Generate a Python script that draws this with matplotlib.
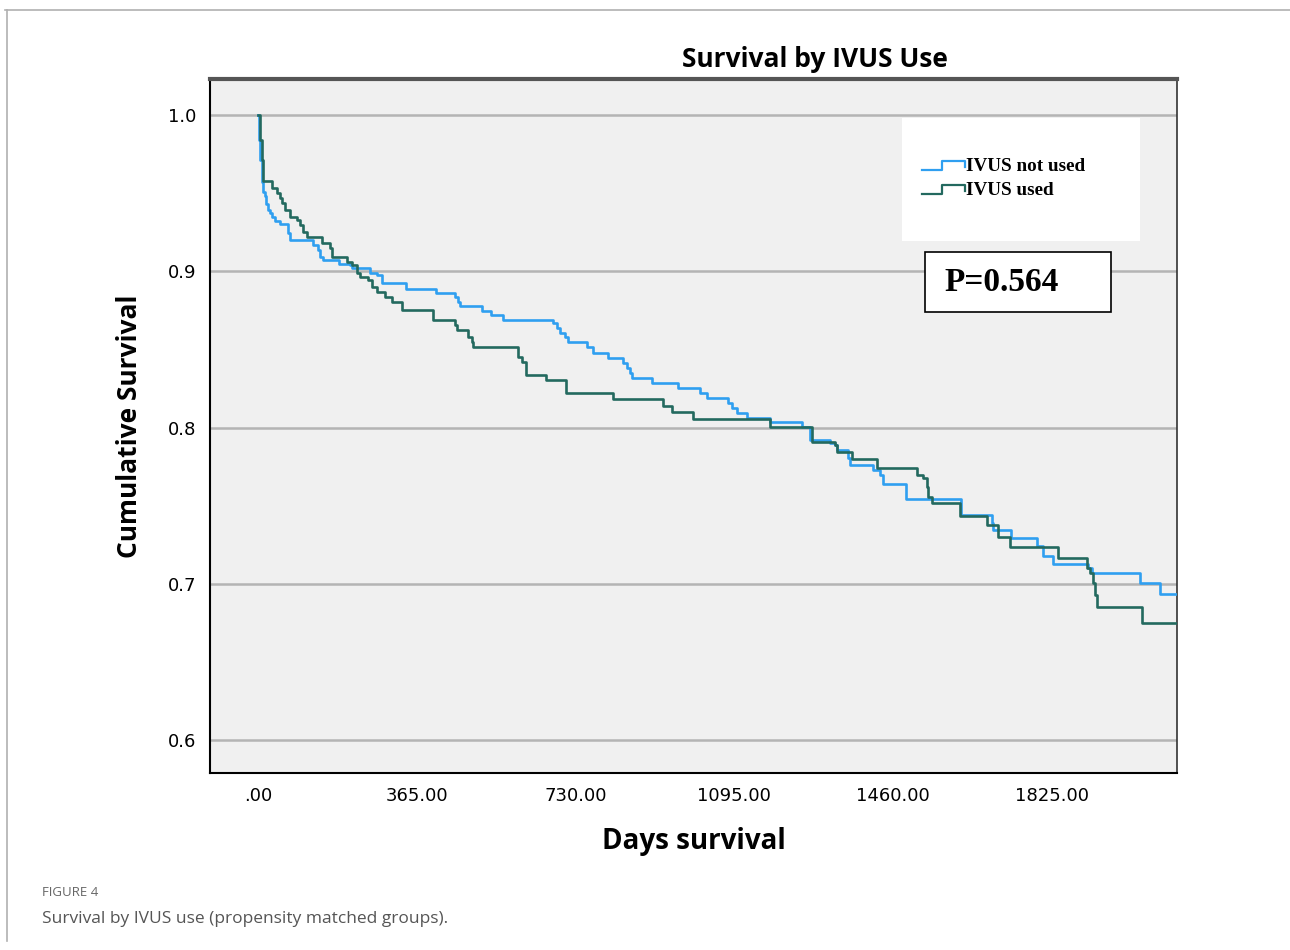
import matplotlib.pyplot as plt
from matplotlib.patches import Rectangle
from matplotlib.lines import Line2D

# Kaplan-Meier steps: (day, survival from that day on)
days_not_used = [0, 2.3, 4.6, 9.2, 12.6, 16.1, 19.5, 23.0, 27.6, 32.2, 39.1, 50.6, 68.9, 73.5,
                 126.4, 137.9, 142.5, 149.4, 186.2, 211.4, 216.0, 257.4, 273.5, 285.0, 340.1,
                 409.1, 452.8, 459.7, 464.3, 514.1, 534.8, 563.1, 678.0, 686.5, 694.1, 705.6,
                 713.2, 755.5, 770.6, 805.1, 839.6, 847.4, 855.0, 858.9, 904.8, 966.0, 1015.9,
                 1031.3, 1080.9, 1088.7, 1100.2, 1123.2, 1176.7, 1250.3, 1268.7, 1314.6, 1326.1,
                 1330.0, 1356.7, 1360.6, 1414.2, 1429.6, 1437.2, 1489.3, 1614.6, 1686.3, 1690.0,
                 1729.5, 1789.2, 1803.0, 1827.9, 1908.3, 1916.1, 2027.1, 2073.1, 2112]
surv_not_used = [1.0, 0.984, 0.971, 0.957, 0.951, 0.948, 0.943, 0.939, 0.937, 0.935, 0.932, 0.930,
                 0.9245, 0.920, 0.9168, 0.9136, 0.9091, 0.9072, 0.9046, 0.9040, 0.9021, 0.8989,
                 0.8976, 0.8925, 0.8886, 0.8863, 0.8833, 0.8805, 0.8778, 0.8748, 0.8720, 0.8688,
                 0.8667, 0.8635, 0.8606, 0.8577, 0.8549, 0.8513, 0.8479, 0.8445, 0.8411, 0.8379,
                 0.8347, 0.8317, 0.8283, 0.8253, 0.8219, 0.8187, 0.8155, 0.8123, 0.8091, 0.8059,
                 0.8037, 0.8005, 0.7920, 0.7899, 0.7888, 0.7856, 0.7803, 0.7760, 0.7728, 0.7696,
                 0.7638, 0.7544, 0.7440, 0.7387, 0.7344, 0.7291, 0.7242, 0.7178, 0.7126, 0.7099,
                 0.7067, 0.7005, 0.6934, 0.6934]

days_used = [0, 4.6, 8.5, 12.2, 31.5, 43.0, 50.6, 54.5, 62.1, 73.5, 88.9, 96.5, 104.1, 111.9,
             146.4, 165.5, 169.4, 203.9, 215.4, 226.8, 234.4, 253.5, 261.3, 272.8, 291.9, 307.3,
             330.3, 402.9, 452.8, 456.7, 483.3, 491.2, 494.8, 598.3, 606.1, 615.9, 661.9, 707.9,
             816.6, 931.5, 950.8, 1000.5, 1176.7, 1272.6, 1326.1, 1330.0, 1364.5, 1422.0, 1513.9,
             1529.1, 1536.9, 1540.6, 1548.4, 1613.4, 1674.8, 1701.5, 1728.4, 1839.3, 1904.6,
             1912.2, 1919.8, 1923.7, 1927.6, 2031.0, 2112]
surv_used = [1.0, 0.984, 0.971, 0.958, 0.9531, 0.9499, 0.9469, 0.9435, 0.9392, 0.9349, 0.9328,
             0.9296, 0.9253, 0.9221, 0.9179, 0.9147, 0.9093, 0.9061, 0.9040, 0.8987, 0.8965,
             0.8944, 0.8901, 0.8869, 0.8837, 0.8805, 0.8752, 0.8688, 0.8656, 0.8624, 0.8581,
             0.8549, 0.8513, 0.8453, 0.8421, 0.8336, 0.8304, 0.8223, 0.8184, 0.8138, 0.8101,
             0.8052, 0.8001, 0.7909, 0.7888, 0.7845, 0.7796, 0.7739, 0.7696, 0.7675, 0.7621,
             0.7557, 0.7515, 0.7434, 0.7376, 0.7301, 0.7237, 0.7163, 0.7099, 0.7067, 0.7003,
             0.6928, 0.6849, 0.6747, 0.6747]

x_ticks = [0, 365, 730, 1095, 1460, 1825]
x_tick_labels = ['.00', '365.00', '730.00', '1095.00', '1460.00', '1825.00']
y_ticks = [0.6, 0.7, 0.8, 0.9, 1.0]
y_tick_labels = ['0.6', '0.7', '0.8', '0.9', '1.0']
group_names = ['IVUS not used', 'IVUS used']
p_text = 'P=0.564'

blue = '#2f9ff0'
green = '#23695f'

fig = plt.figure(figsize=(12.9, 9.5), dpi=100)
ax = fig.add_axes([0.1628, 0.1863, 0.7496, 0.7305])
ax.set_facecolor('#f0f0f0')

for y in y_ticks:
    ax.axhline(y, color='#b4b4b4', lw=1.8, zorder=1)

ax.step(days_not_used, surv_not_used, where='post', color=blue, lw=1.9, zorder=3)
ax.step(days_used, surv_used, where='post', color=green, lw=1.9, zorder=4)

ax.set_xlim(-110, 2112)
ax.set_ylim(0.579, 1.023)
ax.set_xticks(x_ticks)
ax.set_xticklabels(x_tick_labels, fontsize=13, family='DejaVu Sans')
ax.set_yticks(y_ticks)
ax.set_yticklabels(y_tick_labels, fontsize=13, family='DejaVu Sans')
ax.tick_params(length=0)
ax.tick_params(axis='y', pad=10)
ax.tick_params(axis='x', pad=10)

ax.spines['top'].set_color('#555555')
ax.spines['top'].set_linewidth(3)
ax.spines['left'].set_linewidth(1.5)
ax.spines['bottom'].set_linewidth(1.5)
ax.spines['right'].set_color('#333333')
ax.spines['right'].set_linewidth(1.2)

ax.set_ylabel('Cumulative Survival', fontsize=19, fontweight='bold', family='Open Sans', labelpad=18)
ax.set_xlabel('Days survival', fontsize=20, fontweight='bold', family='Open Sans', labelpad=16)
fig.text(0.632, 0.937, 'Survival by IVUS Use', ha='center', va='center',
         fontsize=19, fontweight='bold', family='Open Sans')

# legend panel
ax.add_patch(Rectangle((0.7156, 0.7666), 0.2461, 0.1772, transform=ax.transAxes,
                       facecolor='white', edgecolor='none', zorder=5))
for i, (name, col) in enumerate(zip(group_names, [blue, green])):
    yb = 0.8686 - i * 0.0346
    ax.plot([0.7363, 0.7570, 0.7570, 0.7808, 0.7808], [yb, yb, yb + 0.013, yb + 0.013, yb + 0.004],
            transform=ax.transAxes, color=col, lw=1.6, zorder=6, clip_on=False)
    ax.text(0.7818, yb + 0.006, name, transform=ax.transAxes, fontsize=13.8, fontweight='bold',
            family='Liberation Serif', va='center', ha='left', zorder=7)

# p-value box
ax.add_patch(Rectangle((0.7394, 0.6643), 0.1923, 0.0864, transform=ax.transAxes,
                       facecolor='white', edgecolor='black', lw=1.2, zorder=5))
ax.text(0.7590, 0.7075, p_text, transform=ax.transAxes, fontsize=24, fontweight='bold',
        family='Liberation Serif', va='center', ha='left', zorder=7)

# page frame and caption
fig.add_artist(Line2D([0.004, 1.0], [0.989, 0.989], color='#b0b0b0', lw=1.2))
fig.add_artist(Line2D([0.0055, 0.0055], [0.989, 0.01], color='#b0b0b0', lw=1.2))
fig.text(0.0325, 0.06, 'FIGURE 4', fontsize=9.5, color='#666666', family='Open Sans', va='center')
fig.text(0.0325, 0.033, 'Survival by IVUS use (propensity matched groups).', fontsize=12.5,
         color='#555555', family='Open Sans', va='center')

fig.savefig('out.png', dpi=100)
